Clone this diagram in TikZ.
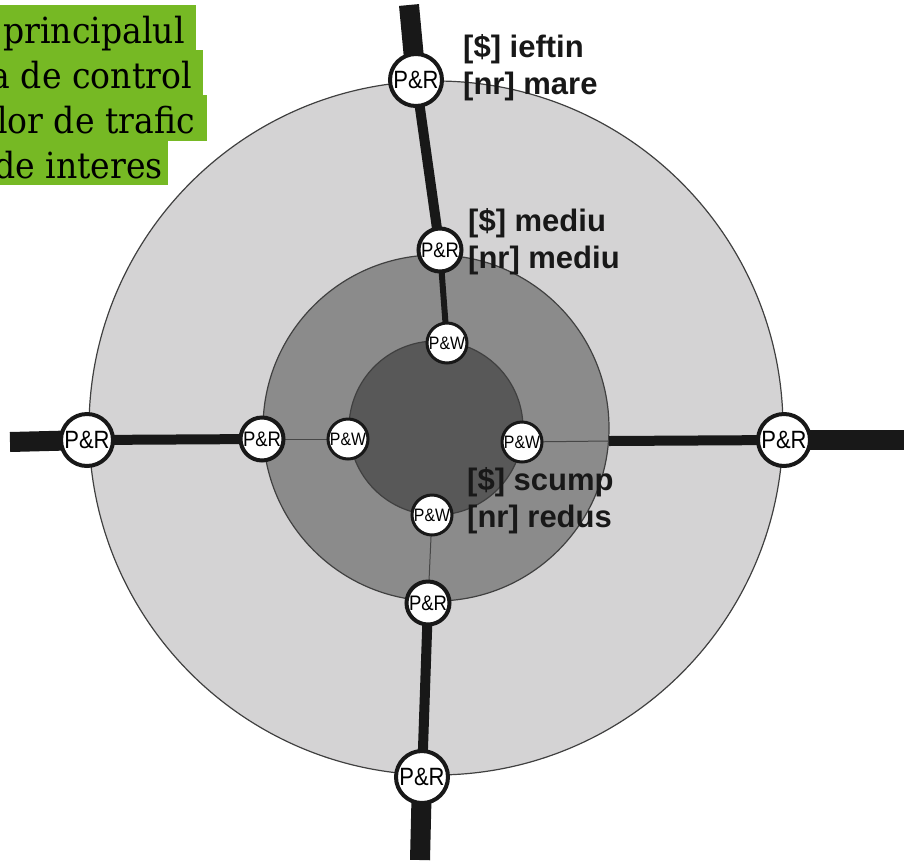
\documentclass[tikz,border=0pt]{standalone}
\usepackage{fontspec}
\newfontfamily\stationfont[FakeStretch=0.88]{Liberation Sans}
\newfontfamily\tarifffont{Liberation Sans}
\newfontfamily\notefont[FakeStretch=0.92]{DejaVu Serif}
\usetikzlibrary{positioning}
\pgfdeclarelayer{zones}
\pgfdeclarelayer{roads}
\pgfsetlayers{zones,roads,main}
\definecolor{zoneouter}{RGB}{212,211,212}
\definecolor{zonemid}{RGB}{139,139,139}
\definecolor{zoneinner}{RGB}{88,88,88}
\definecolor{roadblack}{RGB}{24,24,24}
\definecolor{notegreen}{RGB}{118,185,36}

\begin{document}
\begin{tikzpicture}[
  x=1pt,y=-1pt,
  zone/.style={draw=black!75,line width=1.2pt},
  pr/.style={circle,draw=roadblack,fill=white,line width=4pt,inner sep=0pt,minimum size=52pt,
    font=\stationfont\fontsize{25}{25}\selectfont},
  prmid/.style={pr,minimum size=43pt,font=\stationfont\fontsize{21}{21}\selectfont},
  pw/.style={pr,minimum size=40pt,line width=3pt,font=\stationfont\fontsize{18}{18}\selectfont},
  highway/.style={draw=roadblack,line width=20pt},
  artery/.style={draw=roadblack,line width=10pt},
  street/.style={draw=roadblack,line width=6pt},
  lane/.style={draw=roadblack!80,line width=1pt},
  tariff/.style={anchor=west,align=left,inner sep=0pt,text=roadblack,
    font=\tarifffont\bfseries\fontsize{31}{37}\selectfont},
  note/.style={anchor=base east,inner sep=0pt,font=\notefont\fontsize{36}{36}\selectfont}
]
  \useasboundingbox (0,0) rectangle (904,865);

  % note in the corner
  \fill[notegreen] (0,5) rectangle (196,50);
  \fill[notegreen] (0,50) rectangle (203,95);
  \fill[notegreen] (0,95) rectangle (207,141);
  \fill[notegreen] (0,141) rectangle (168,185);
  \node[note] (note1) at (185,43) {principalul};
  \node[note] (note2) at (192,88) {a de control};
  \node[note] (note3) at (195,133) {lor de trafic};
  \node[note] (note4) at (163,178) {de interes};

  % zones
  \coordinate (ctr) at (436,428);
  \begin{pgfonlayer}{zones}
    \draw[zone,fill=zoneouter] (ctr) circle[radius=347];
    \draw[zone,fill=zonemid] (ctr) circle[radius=173];
    \draw[zone,fill=zoneinner] (ctr) circle[radius=87];
  \end{pgfonlayer}

  % stations
  \node[pr] (prN1) at (416,80) {P\&R};
  \node[prmid] (prN2) at (440,250) {P\&R};
  \node[pw] (pwN) at (447,343) {P\&W};
  \node[pr] (prW1) at (87,440) {P\&R};
  \node[prmid] (prW2) at (262,439) {P\&R};
  \node[pw] (pwW) at (348,439) {P\&W};
  \node[pr] (prE1) at (784,440) {P\&R};
  \node[pw] (pwE) at (522,442) {P\&W};
  \node[prmid] (prS2) at (428,603) {P\&R};
  \node[pr] (prS1) at (422,777) {P\&R};
  \node[pw] (pwS) at (432,515) {P\&W};

  \coordinate (endN) at (409,5);
  \coordinate (endW) at (10,442);
  \coordinate (endE) at (904,440);
  \coordinate (endS) at (420,860);
  \coordinate (edgeE) at (609,441);

  % roads
  \begin{pgfonlayer}{roads}
    \draw[highway] (endN) -- (prN1.center);
    \draw[artery] (prN1.center) -- (prN2.center);
    \draw[street] (prN2.center) -- (pwN.center);
    \draw[highway] (endW) -- (prW1.center);
    \draw[artery] (prW1.center) -- (prW2.center);
    \draw[lane] (prW2.center) -- (pwW.center);
    \draw[highway] (endE) -- (prE1.center);
    \draw[artery] (prE1.center) -- (edgeE);
    \draw[lane] (edgeE) -- (pwE.center);
    \draw[highway] (endS) -- (prS1.center);
    \draw[artery] (prS1.center) -- (prS2.center);
    \draw[lane] (prS2.center) -- (pwS.center);
  \end{pgfonlayer}

  % prices and capacity
  \node[tariff] (costN1) at (463,68) {[\$] ieftin\\{}[nr] mare};
  \node[tariff] (costN2) at (468,242) {[\$] mediu\\{}[nr] mediu};
  \node[tariff] (costC) at (467,501) {[\$] scump\\{}[nr] redus};
\end{tikzpicture}
\end{document}
